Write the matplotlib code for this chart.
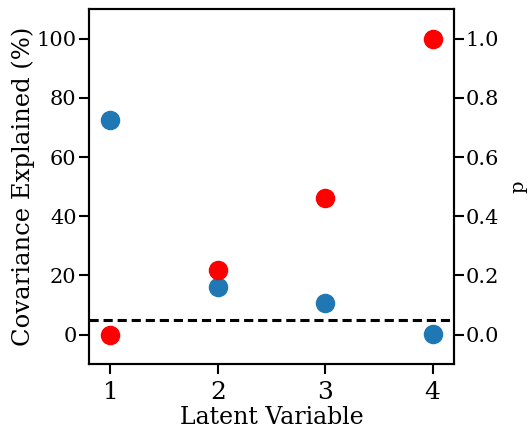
import numpy as np
import matplotlib
matplotlib.use("Agg")
import matplotlib.pyplot as plt

# latent variables and results
lv = [1, 2, 3, 4]
cov_explained = [72.6, 16.2, 10.7, 0.2]   # percent
p_vals = [0.0, 0.217, 0.462, 1.0]
alpha = 0.05

plt.rcParams['font.family'] = 'DejaVu Serif'
plt.rcParams['font.size'] = 17

fig = plt.figure(figsize=(5.28, 4.32), dpi=100)
ax = fig.add_axes([0.1686, 0.157, 0.6913, 0.822])
ax2 = ax.twinx()

ax.scatter(lv, cov_explained, s=170, color='#1f77b4', zorder=3)
ax2.scatter(lv, p_vals, s=170, color='red', zorder=3)
ax2.axhline(alpha, color='k', ls=(0, (3, 1.6)), lw=2.2)

ax.set_xlim(0.8, 4.2)
ax.set_ylim(-10, 110)
ax2.set_ylim(-0.1, 1.1)
ax.set_xticks(lv)
ax.set_yticks([0, 20, 40, 60, 80, 100])
ax2.set_yticks([0.0, 0.2, 0.4, 0.6, 0.8, 1.0])

ax.set_xlabel('Latent Variable', labelpad=1.5)
ax.set_ylabel('Covariance Explained (%)', fontsize=17.5, labelpad=1)
ax2.set_ylabel('p', fontsize=14, labelpad=8)

ax.tick_params(axis='x', labelsize=18, length=7, width=1.5, pad=5)
ax.tick_params(axis='y', labelsize=15, length=7, width=1.5, pad=2)
ax2.tick_params(axis='y', labelsize=15, length=7, width=1.5, pad=1)
for a in (ax, ax2):
    for sp in a.spines.values():
        sp.set_linewidth(1.5)

fig.savefig('out.png', dpi=100)
